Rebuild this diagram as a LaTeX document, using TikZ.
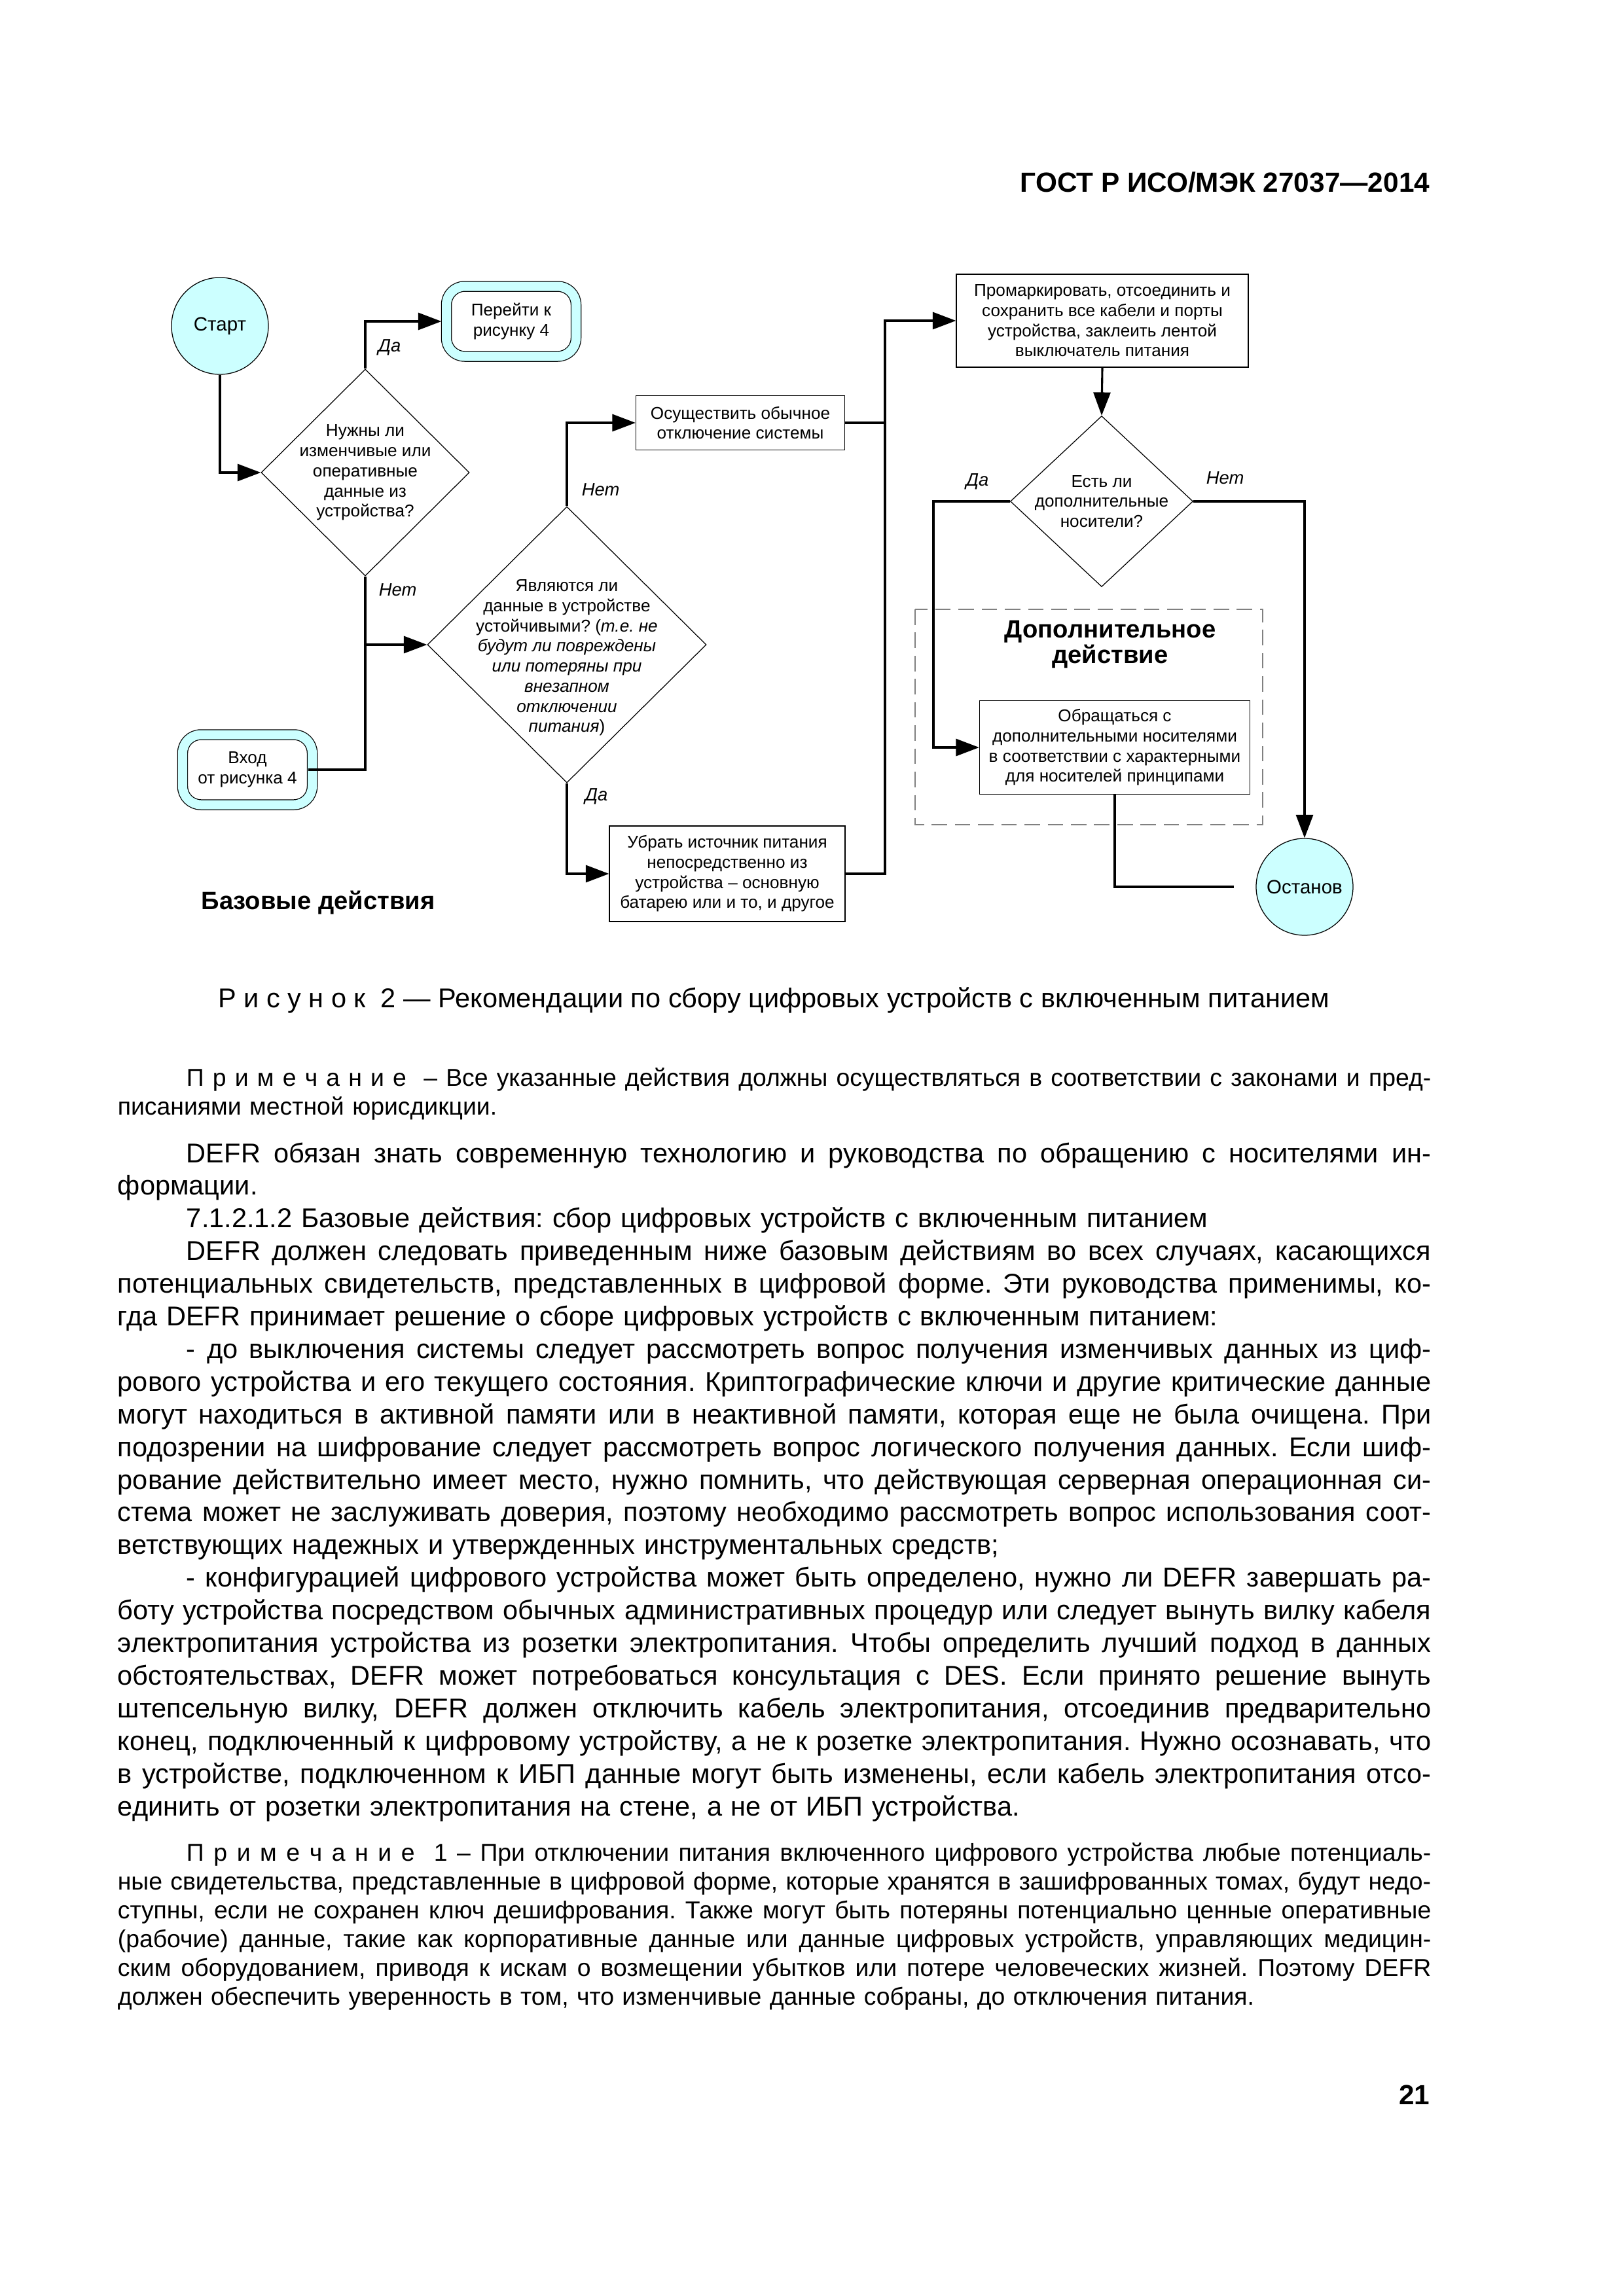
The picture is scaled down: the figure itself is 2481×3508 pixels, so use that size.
\documentclass[tikz,border=0pt]{standalone}
\usepackage{fontspec}
\setmainfont{Liberation Sans}
\usetikzlibrary{shapes.geometric,arrows.meta}

\definecolor{termcyan}{HTML}{CCFFFF}
% one unit of the picture is one pixel of the 300 dpi page
\newlength\pxu \setlength\pxu{0.08466mm}
\newcommand\pxd[1]{\the\dimexpr#1\pxu\relax}
\newlength\bodyw \setlength\bodyw{169.85mm}
\newlength\indw \setlength\indw{8.9mm}
\newcommand\stretchspaces{\spaceskip=\fontdimen2\font plus 1fil minus \fontdimen4\font\relax}
\newcommand\jline[1]{\makebox[\bodyw][s]{\stretchspaces#1}}
\newcommand\jfirst[1]{\hspace*{\indw}\makebox[\dimexpr\bodyw-\indw\relax][s]{\stretchspaces#1}}
\newcommand\rfirst[1]{\hspace*{\indw}#1}

\begin{document}
\frenchspacing
\begin{tikzpicture}[x=0.08466mm, y=-0.08466mm,
  every node/.style={inner sep=0pt},
  boxfont/.style={font=\fontsize{6.3}{7.4}\selectfont},
  process/.style={draw, line width=0.3pt, align=center, boxfont},
  decision/.style={diamond, draw, line width=0.3pt},
  terminal/.style={circle, draw, line width=0.3pt, fill=termcyan, minimum size=\pxd{148}, font=\fontsize{7.1}{8}\selectfont},
  jump/.style={draw, line width=0.3pt, double=termcyan, double distance=\pxd{14}, fill=white, rounded corners=\pxd{28}, minimum width=\pxd{198}, minimum height=\pxd{107}, align=center, boxfont},
  answer/.style={anchor=west, font=\fontsize{6.6}{7.4}\selectfont\itshape},
  heading/.style={align=center, font=\fontsize{9.2}{9.4}\selectfont\bfseries},
  flow/.style={line width=0.75pt, -{Triangle[length=3mm, width=2.2mm]}},
  link/.style={line width=0.75pt},
  group/.style={draw=gray, line width=0.35pt, dash pattern=on 2mm off 1mm},
  body/.style={anchor=base west, text width=\bodyw, align=left, font=\fontsize{10}{12.02}\selectfont},
  note/.style={anchor=base west, text width=\bodyw, align=left, font=\fontsize{9}{10.6}\selectfont}]
  \fill[white] (0,0) rectangle (2481,3508);
  \useasboundingbox (0,0) rectangle (2481,3508);

  % running head
  \node[anchor=base east, font=\fontsize{10.2}{12}\selectfont\bfseries] (gost) at (2185,293) {ГОСТ Р ИСО/МЭК 27037—2014};

  % basic actions
  \node[terminal] (start) at (336,498) {Старт};
  \node[jump] (goto4) at (781,491) {Перейти к\\рисунку 4};
  \node[decision, minimum width=\pxd{318}, minimum height=\pxd{316}] (d1) at (558,722) {};
  \node[align=center, boxfont] (d1text) at (d1) {Нужны ли\\изменчивые или\\оперативные\\данные из\\устройства?};
  \node[decision, minimum width=\pxd{426}, minimum height=\pxd{422}] (d2) at (866,985) {};
  \node[align=center, boxfont] (d2text) at (866,1005) {Являются ли\\данные в устройстве\\устойчивыми? (\textit{т.е. не}\\\textit{будут ли повреждены}\\\textit{или потеряны при}\\\textit{внезапном}\\\textit{отключении}\\\textit{питания})};
  \node[jump] (vhod) at (378,1176) {Вход\\от рисунка 4};
  \node[process, minimum width=\pxd{319}, minimum height=\pxd{83}] (normal) at (1131,646) {Осуществить обычное\\отключение системы};
  \node[process, minimum width=\pxd{360}, minimum height=\pxd{146}] (remove) at (1111,1335) {Убрать источник питания\\непосредственно из\\устройства – основную\\батарею или и то, и другое};
  \node[heading] (basetitle) at (486,1379) {Базовые действия};

  % additional action
  \node[process, minimum width=\pxd{446}, minimum height=\pxd{142}] (mark) at (1684,490) {Промаркировать, отсоединить и\\сохранить все кабели и порты\\устройства, заклеить лентой\\выключатель питания};
  \node[decision, minimum width=\pxd{279}, minimum height=\pxd{261}] (d3) at (1683,766) {};
  \node[align=center, boxfont] (d3text) at (d3) {Есть ли\\дополнительные\\носители?};
  \draw[group] (1398,931) rectangle (1929,1260);
  \node[heading] (extratitle) at (1696,985) {Дополнительное\\действие};
  \node[process, minimum width=\pxd{413}, minimum height=\pxd{143}] (handle) at (1703,1142) {Обращаться с\\дополнительными носителями\\в соответствии с характерными\\для носителей принципами};
  \node[terminal] (stop) at (1993,1355) {Останов};

  % answers
  \node[answer] (yes1) at (577,531) {Да};
  \node[answer] (no1) at (578,901) {Нет};
  \node[answer] (no2) at (888,748) {Нет};
  \node[answer] (yes2) at (893,1217) {Да};
  \node[answer] (yes3) at (1475,736) {Да};
  \node[answer] (no3) at (1842,730) {Нет};

  % connectors
  \coordinate (merge) at (1352,1335);
  \coordinate (yescol) at (1426,766);
  \draw[flow] (start.south) |- (d1.west);
  \draw[flow, shorten >=\pxd{7}] (d1.north) |- (goto4.west);
  \draw[flow] (d1.south) |- (d2.west);
  \draw[link, shorten <=-\pxd{7}] (vhod.east) -| (d1.south |- d2.west);
  \draw[flow] (d2.north) |- (normal.west);
  \draw[flow] (d2.south) |- (remove.west);
  \draw[link] (normal.east) -- (normal.east -| merge);
  \draw[flow] (remove.east) -- (merge) |- (mark.west);
  \draw[flow] (mark.south) -- (d3.north);
  \draw[flow] (d3.west) -- (yescol) |- (handle.west);
  \draw[flow] (d3.east) -| (stop.north);
  \draw[link, shorten >=\pxd{33}] (handle.south) |- (stop.west);

  % caption and text
  \node[anchor=base, font=\fontsize{10}{12}\selectfont] (caption) at (1182,1539) {Р и с у н о к~ 2 — Рекомендации по сбору цифровых устройств с включенным питанием};
  \node[note] (note0) at (179,1659) {%
\jfirst{П р и м е ч а н и е~ – Все указанные действия должны осуществляться в соответствии с законами и пред-}\\
писаниями местной юрисдикции.};
  \node[body] (text) at (179,1776) {%
\jfirst{DEFR обязан знать современную технологию и руководства по обращению с носителями ин-}\\
формации.\\
\rfirst{7.1.2.1.2 Базовые действия: сбор цифровых устройств с включенным питанием}\\
\jfirst{DEFR должен следовать приведенным ниже базовым действиям во всех случаях, касающихся}\\
\jline{потенциальных свидетельств, представленных в цифровой форме. Эти руководства применимы, ко-}\\
гда DEFR принимает решение о сборе цифровых устройств с включенным питанием:\\
\jfirst{- до выключения системы следует рассмотреть вопрос получения изменчивых данных из циф-}\\
\jline{рового устройства и его текущего состояния. Криптографические ключи и другие критические данные}\\
\jline{могут находиться в активной памяти или в неактивной памяти, которая еще не была очищена. При}\\
\jline{подозрении на шифрование следует рассмотреть вопрос логического получения данных. Если шиф-}\\
\jline{рование действительно имеет место, нужно помнить, что действующая серверная операционная си-}\\
\jline{стема может не заслуживать доверия, поэтому необходимо рассмотреть вопрос использования соот-}\\
ветствующих надежных и утвержденных инструментальных средств;\\
\jfirst{- конфигурацией цифрового устройства может быть определено, нужно ли DEFR завершать ра-}\\
\jline{боту устройства посредством обычных административных процедур или следует вынуть вилку кабеля}\\
\jline{электропитания устройства из розетки электропитания. Чтобы определить лучший подход в данных}\\
\jline{обстоятельствах, DEFR может потребоваться консультация с DES. Если принято решение вынуть}\\
\jline{штепсельную вилку, DEFR должен отключить кабель электропитания, отсоединив предварительно}\\
\jline{конец, подключенный к цифровому устройству, а не к розетке электропитания. Нужно осознавать, что}\\
\jline{в устройстве, подключенном к ИБП данные могут быть изменены, если кабель электропитания отсо-}\\
единить от розетки электропитания на стене, а не от ИБП устройства.};
  \node[note] (note1) at (179,2843) {%
\jfirst{П р и м е ч а н и е~ 1 – При отключении питания включенного цифрового устройства любые потенциаль-}\\
\jline{ные свидетельства, представленные в цифровой форме, которые хранятся в зашифрованных томах, будут недо-}\\
\jline{ступны, если не сохранен ключ дешифрования. Также могут быть потеряны потенциально ценные оперативные}\\
\jline{(рабочие) данные, такие как корпоративные данные или данные цифровых устройств, управляющих медицин-}\\
\jline{ским оборудованием, приводя к искам о возмещении убытков или потере человеческих жизней. Поэтому DEFR}\\
должен обеспечить уверенность в том, что изменчивые данные собраны, до отключения питания.};

  \node[anchor=base east, font=\fontsize{10.2}{12}\selectfont\bfseries] (pagenum) at (2185,3215) {21};
\end{tikzpicture}
\end{document}
